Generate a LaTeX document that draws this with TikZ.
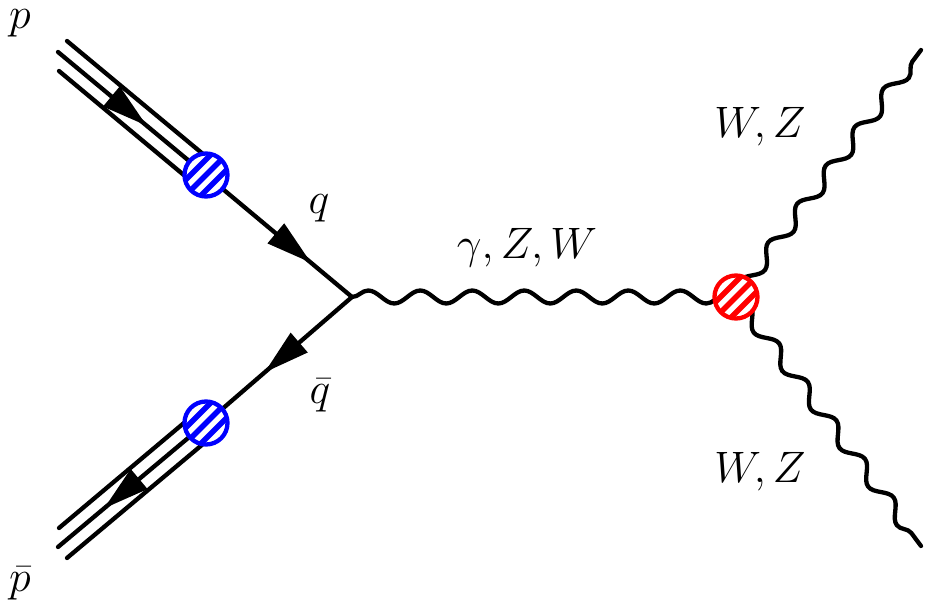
\documentclass[tikz,border=0pt]{standalone}
\usepackage{fix-cm}
\usetikzlibrary{decorations.pathmorphing,decorations.markings,arrows.meta,backgrounds}
\newcommand\blobstripes[2]{%
  \begin{scope}
    \clip (#1.center) circle (21.5pt);
    \foreach \o in {-11,0,11}{
      \draw[#2, line width=5.5pt]
        ([shift={({\o*0.7071pt-26pt},{-\o*0.7071pt-26pt})}]#1.center) --
        ([shift={({\o*0.7071pt+26pt},{-\o*0.7071pt+26pt})}]#1.center);
    }
  \end{scope}}
\begin{document}
\begin{tikzpicture}[x=1pt,y=-1pt,
  fermion/.style={line width=4.3pt, line cap=round},
  boson/.style={line width=4.3pt, line cap=round, decorate,
    decoration={snake, amplitude=#1}},
  arrowat/.style={postaction={decorate, decoration={markings,
    mark=at position #1 with {\arrow{Triangle[length=46pt,width=25pt]}}}}},
  blob/.style={circle, draw=#1, line width=4.3pt, fill=white,
    minimum size=43pt, inner sep=0pt},
  lbl/.style={anchor=base, inner sep=0pt, font=\fontsize{44}{50}\selectfont}]
\useasboundingbox (0,0) rectangle (935,602);

% vertices and end points
\coordinate (V) at (352,297);
\coordinate (S1) at (58,52);
\coordinate (S2) at (58,547);
\coordinate (E1) at (921,50);
\coordinate (E2) at (921,546);
% outer proton lines
\coordinate (U1a) at (67,41);   \coordinate (U1b) at (215,164);
\coordinate (L1a) at (59,71);   \coordinate (L1b) at (197,186);
\coordinate (U2a) at (59,528);  \coordinate (U2b) at (197,412);
\coordinate (L2a) at (67,558);  \coordinate (L2b) at (215,434);

% blobs
\node[blob=blue] (B1) at (206,175) {};
\node[blob=blue] (B2) at (206,423) {};
\node[blob=red]  (R)  at (736,297) {};
\blobstripes{B1}{blue}
\blobstripes{B2}{blue}
\blobstripes{R}{red}

\begin{pgfonlayer}{background}
  % protons
  \draw[fermion] (U1a) -- (U1b);
  \draw[fermion] (L1a) -- (L1b);
  \draw[fermion, arrowat=0.6] (S1) -- (B1.center);
  \draw[fermion] (U2a) -- (U2b);
  \draw[fermion] (L2a) -- (L2b);
  \draw[fermion, arrowat=0.69] (B2.center) -- (S2);
  % quarks
  \draw[fermion, arrowat=0.72] (B1.center) -- (V);
  \draw[fermion, arrowat=0.6] (V) -- (B2.center);
  % bosons
  \draw[boson=6.5pt, decoration={segment length=52pt}] (V) -- (R.center);
  \draw[boson=7pt, decoration={segment length=48pt}] (R.center) -- (E1);
  \draw[boson=7pt, decoration={segment length=48pt}] (R.center) -- (E2);
\end{pgfonlayer}

% labels
\node[lbl] (lp)  at (20,29)   {$p$};
\node[lbl] (lpb) at (20,591)  {$\bar p$};
\node[lbl] (lq)  at (319,213) {$q$};
\node[lbl] (lqb) at (320,403) {$\bar q$};
\node[lbl] (lg)  at (527,258) {$\gamma, Z, W$};
\node[lbl] (lw1) at (760,137) {$W, Z$};
\node[lbl] (lw2) at (760,482) {$W, Z$};
\end{tikzpicture}
\end{document}
